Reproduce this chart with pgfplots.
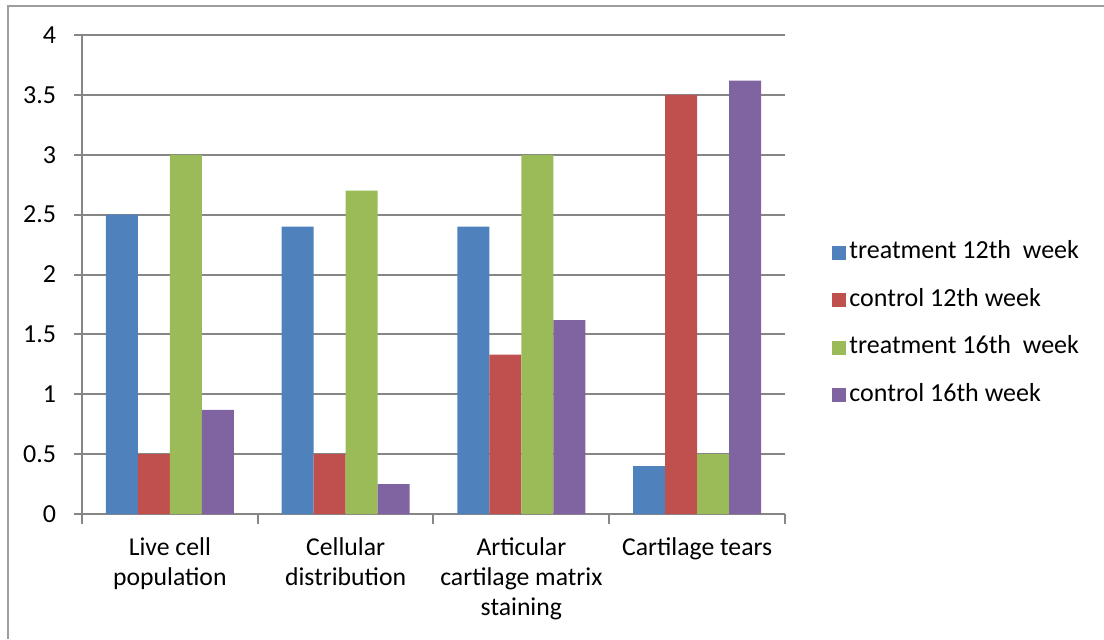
\documentclass[border=0pt]{standalone}
\usepackage{pgfplots}
\pgfplotsset{compat=1.18}
\usepackage{fontspec}
\setmainfont{Carlito}
\definecolor{cA}{HTML}{4F81BD}
\definecolor{cB}{HTML}{C0504D}
\definecolor{cC}{HTML}{9BBB59}
\definecolor{cD}{HTML}{8064A2}
\definecolor{gridg}{HTML}{868686}
\begin{document}
\fontsize{12.85}{15}\selectfont
\begin{tikzpicture}
\useasboundingbox (-41pt,-62.5pt) rectangle (511pt,257pt);
\draw[gridg!80,line width=1pt] (-37pt,-62.5pt) -- (-37pt,254pt) -- (511pt,254pt);
\begin{axis}[
  at={(0pt,0pt)}, anchor=south west,
  width=351.5pt, height=239.5pt, scale only axis,
  xmin=-0.5, xmax=3.5, ymin=0, ymax=4,
  ytick={0,0.5,...,4},
  yticklabels={0,0.5,1,1.5,2,2.5,3,3.5,4},
  xtick={0,1,2,3},
  xticklabels={Live cell\\population, Cellular\\distribution, Articular\\cartilage matrix\\staining, Cartilage tears},
  minor xtick={-0.5,0.5,1.5,2.5,3.5},
  axis x line*=bottom, axis y line*=left,
  axis line style={gridg, line width=1pt},
  ymajorgrids, major grid style={gridg, line width=1pt},
  tick style={gridg, line width=1pt},
  tick align=outside,
  major tick length=3.75pt,
  minor tick length=5pt,
  xtick style={draw=none},
  minor x tick style={gridg, line width=1pt, draw=gridg},
  ytick style={gridg},
  x axis line style={-}, y axis line style={-},
  yticklabel style={anchor=east, inner sep=0pt, xshift=-9pt, font=\fontsize{13}{15}\selectfont},
  xticklabel style={align=center, anchor=north, inner sep=0pt, yshift=-8pt, font=\fontsize{12.85}{15}\selectfont},
  /pgf/number format/assume math mode=true,
  ybar, bar width=0.1818,
  enlarge x limits=false,
  legend style={draw=none, at={(1,0.3967)}, anchor=west, xshift=23.5pt, inner sep=0pt,
    row sep=11.75pt, font=\fontsize{13}{15}\selectfont,
    nodes={inner sep=0pt, text height=9pt, text depth=3pt, anchor=west},
    legend cell align=left},
  legend image code/.code={\fill[#1,draw=none] (0pt,-3.5pt) rectangle (7pt,3.5pt);},
  legend columns=1,
]
\addplot[fill=cA, draw=none, bar shift=-0.2727] coordinates {(0,2.5) (1,2.4) (2,2.4) (3,0.4)};
\addplot[fill=cB, draw=none, bar shift=-0.0909] coordinates {(0,0.5) (1,0.5) (2,1.33) (3,3.5)};
\addplot[fill=cC, draw=none, bar shift=0.0909] coordinates {(0,3.0) (1,2.7) (2,3.0) (3,0.5)};
\addplot[fill=cD, draw=none, bar shift=0.2727] coordinates {(0,0.87) (1,0.25) (2,1.62) (3,3.62)};
\legend{\hspace{1.5pt}treatment 12th\ \ week, \hspace{1.5pt}control 12th week, \hspace{1.5pt}treatment 16th\ \ week, \hspace{1.5pt}control 16th week}
\end{axis}
\end{tikzpicture}
\end{document}
